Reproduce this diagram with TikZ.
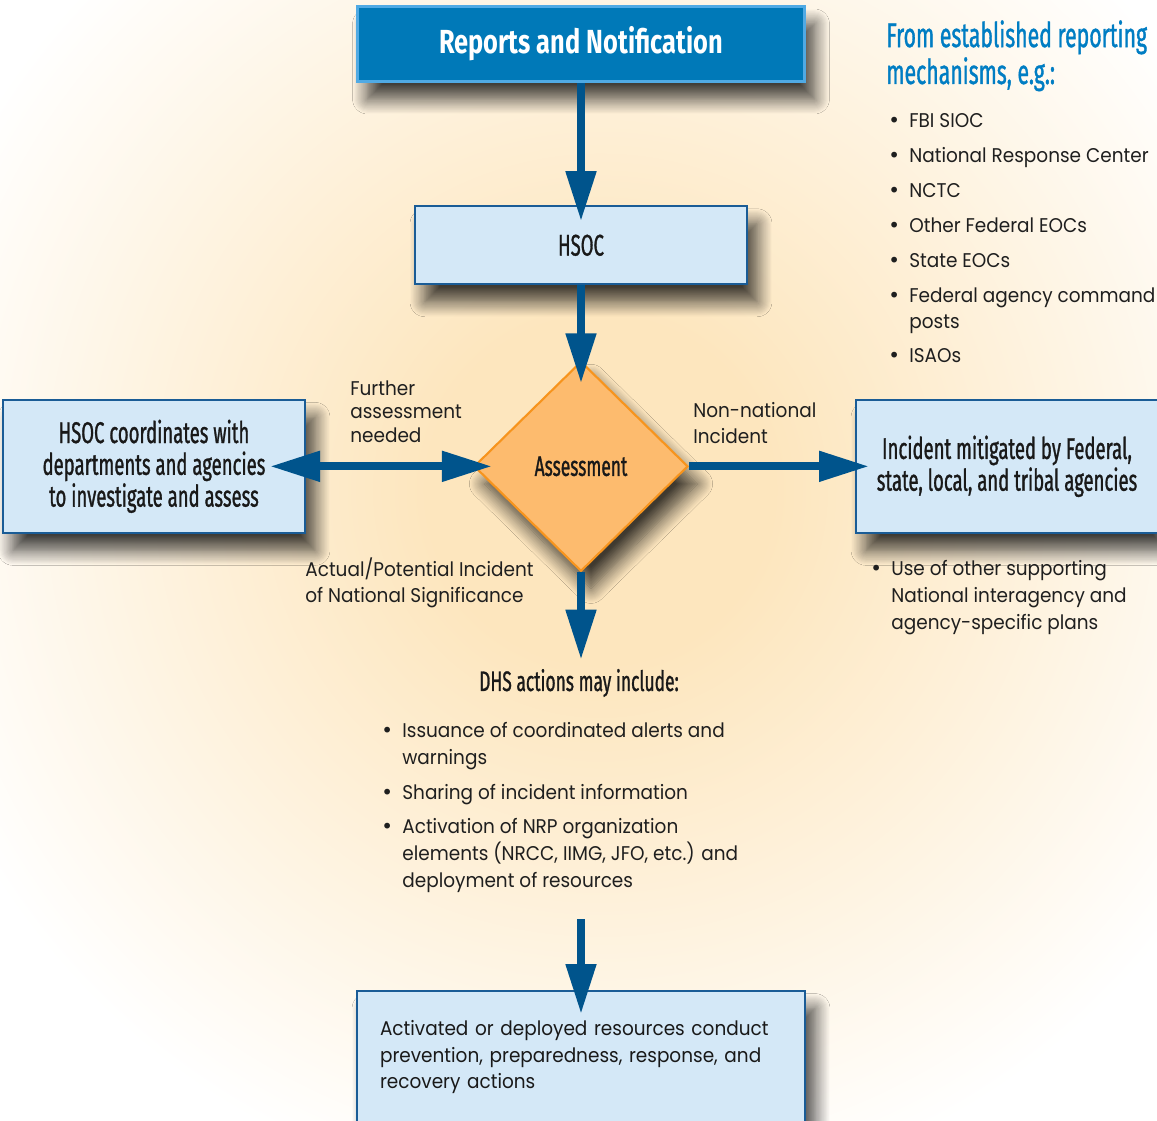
\documentclass[tikz,border=0pt]{standalone}
\usepackage{fontspec}
\setmainfont{Poppins}[FakeStretch=0.93]
\newfontfamily\condfont{Fira Sans}[FakeStretch=0.62, FakeBold=1]
\newfontfamily\headfont{Fira Sans}[FakeStretch=0.76]
\newfontfamily\symfont{DejaVu Sans}
\usepackage{xcolor}
\definecolor{navy}{RGB}{0,84,140}
\definecolor{reportblue}{RGB}{0,121,184}
\definecolor{reportedge}{RGB}{80,170,228}
\definecolor{paleblue}{RGB}{212,232,247}
\definecolor{boxedge}{RGB}{26,92,150}
\definecolor{amber}{RGB}{253,187,110}
\definecolor{amberedge}{RGB}{247,148,29}
\definecolor{leadblue}{RGB}{0,125,195}
\definecolor{glow}{RGB}{253,230,190}
\definecolor{shadowgrey}{RGB}{70,62,52}
\usepackage{tikz}
\usetikzlibrary{
    shapes.geometric,
    arrows.meta,
    positioning,
    shadows.blur
}
\pgfdeclareradialshading{glowshade}{\pgfpoint{0bp}{0bp}}{color(0bp)=(glow); color(6bp)=(glow); color(25bp)=(white); color(50bp)=(white)}
\newcommand{\bulletrow}[1]{\makebox[0.42cm][l]{\symfont •}#1}
\newcommand{\wrapline}[1]{\hspace*{0.42cm}#1}

\begin{document}
\begin{tikzpicture}[
    x=0.02cm, y=-0.02cm,
    >={Triangle[length=1cm, width=0.58cm]},
    shadowed/.style={blur shadow={shadow xshift=0.2cm, shadow yshift=-0.35cm, shadow blur radius=0.3cm, shadow blur steps=14, shadow opacity=75, fill=shadowgrey}},
    box/.style={shadowed, draw=boxedge, line width=1.2pt, fill=paleblue, inner sep=4pt, align=center, text=black!90, font=\condfont\fontsize{17}{18.1}\selectfont},
    headbox/.style={box, fill=reportblue, draw=reportedge, line width=2pt, text=white, font=\headfont\bfseries\fontsize{19}{22}\selectfont},
    decision/.style={shadowed, diamond, fill=amber, draw=amberedge, line width=1.2pt, minimum width=4.28cm, minimum height=4.2cm, inner sep=0pt, align=center, text=black!90, font=\condfont\fontsize{16}{18}\selectfont},
    flow/.style={draw=navy, line width=0.16cm, ->},
    note/.style={inner sep=0pt, align=left, text=black!88, font=\fontsize{11.3}{15.3}\selectfont},
    lead/.style={inner sep=0pt, align=left, text=leadblue, font=\condfont\fontsize{19.5}{21}\selectfont}
]

% ==================== BACKGROUND ====================
\useasboundingbox (0,0) rectangle (1157,1120);
\fill[white] (0,0) rectangle (1157,1120);
\shade[shading=glowshade] (600,490) circle (720);

% ==================== MAIN FLOW ====================
\node[headbox, minimum width=8.94cm, minimum height=1.5cm] (reports) at (581,44) {Reports and Notification};

\node[box, minimum width=6.64cm, minimum height=1.56cm, below=2.44cm of reports] (hsoc) {HSOC};
\draw[flow, shorten >=-0.32cm] (reports) -- (hsoc);

\node[decision, below=1.5cm of hsoc] (assess) {Assessment};
\draw[flow, shorten >=-0.46cm] (hsoc) -- (assess);

% ==================== SIDE OUTCOMES ====================
\node[box, minimum width=6.04cm, minimum height=2.66cm, left=3.34cm of assess] (coord) {
    HSOC coordinates with\\
    departments and agencies\\
    to investigate and assess
};
\draw[flow, <->, shorten <=-0.38cm, shorten >=-0.72cm] (assess) -- (coord);
\node[note, anchor=north west, font=\fontsize{11.3}{13.6}\selectfont] (further) at (350,380) {Further\\assessment\\needed};

\node[box, minimum width=6.04cm, minimum height=2.66cm, right=3.32cm of assess] (mitig) {
    Incident mitigated by Federal,\\
    state, local, and tribal agencies
};
\draw[flow, shorten >=-0.28cm] (assess) -- (mitig);
\node[note, anchor=north west, font=\fontsize{11.3}{14.7}\selectfont] (nonnat) at (693,402) {Non-national\\Incident};

\node[note, anchor=north west] (plans) at (870,560) {
    \bulletrow{Use of other supporting}\\
    \wrapline{National interagency and}\\
    \wrapline{agency-specific plans}
};

% ==================== REPORTING SOURCES ====================
\node[lead, anchor=north west] (srchead) at (886,20) {From established reporting\\mechanisms, e.g.:};
\node[note, anchor=north west, font=\fontsize{11.3}{14.7}\selectfont] (srclist) at (888,113) {
    \bulletrow{FBI SIOC}\\[5.2pt]
    \bulletrow{National Response Center}\\[5.2pt]
    \bulletrow{NCTC}\\[5.2pt]
    \bulletrow{Other Federal EOCs}\\[5.2pt]
    \bulletrow{State EOCs}\\[5.2pt]
    \bulletrow{Federal agency command}\\
    \wrapline{posts}\\[5.2pt]
    \bulletrow{ISAOs}
};

% ==================== DHS ACTIONS ====================
\node[note, anchor=north west] (natlabel) at (305,557) {Actual/Potential Incident\\of National Significance};

\node[inner sep=0pt, text=black!90, font=\condfont\fontsize{16}{18}\selectfont] (dhs) at (579,683) {DHS actions may include:};
\draw[flow, shorten >=0.18cm] (assess.south) -- (assess.south |- dhs.north);

\node[note, anchor=north west] (dhslist) at (381,722) {
    \bulletrow{Issuance of coordinated alerts and}\\
    \wrapline{warnings}\\[4.5pt]
    \bulletrow{Sharing of incident information}\\[4.5pt]
    \bulletrow{Activation of NRP organization}\\
    \wrapline{elements (NRCC, IIMG, JFO, etc.) and}\\
    \wrapline{deployment of resources}
};

\node[box, anchor=north, minimum width=8.96cm, minimum height=2.64cm, text width=8.04cm, align=left, font=\fontsize{11.3}{15.3}\selectfont] (act) at (581,990) {
    Activated or deployed resources conduct\\
    prevention, preparedness, response, and\\
    recovery actions
};
\draw[flow, shorten <=0.52cm, shorten >=-0.48cm] (dhslist.south -| act.north) -- (act.north);

\end{tikzpicture}
\end{document}
